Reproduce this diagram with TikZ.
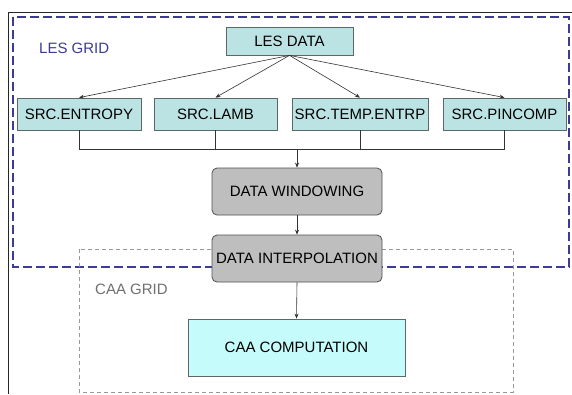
\documentclass[tikz,border=0pt]{standalone}
\usepackage{fontspec}
\setmainfont{Liberation Sans}
\usetikzlibrary{arrows.meta}
\definecolor{srcfill}{HTML}{BCE3E3}
\definecolor{caafill}{HTML}{C6FBFB}
\definecolor{boxline}{HTML}{5A6868}
\definecolor{grayfill}{HTML}{BEBEBE}
\definecolor{grayline}{HTML}{505050}
\definecolor{lesblue}{HTML}{3C3C96}
\definecolor{caagray}{HTML}{999999}
\definecolor{caatext}{HTML}{707070}
\begin{document}
\begin{tikzpicture}[x=1pt,y=-1pt,
  every node/.style={font=\fontsize{15}{17}\selectfont, inner sep=0pt},
  srcbox/.style={draw=boxline, fill=srcfill, line width=0.8pt, minimum height=32pt},
  graybox/.style={draw=grayline, fill=grayfill, line width=0.8pt, rounded corners=5pt, minimum width=170pt, minimum height=47pt},
  conn/.style={draw=black!80, line width=0.6pt},
  arr/.style={conn, -{Stealth[length=5pt,width=4pt]}}]
\useasboundingbox (0,0) rectangle (572,394);
\fill[white] (0,0) rectangle (572,394);
% outer frame
\draw[black!85, line width=0.9pt] (572,12) -- (8,12) -- (8,394);
% grids
\draw[lesblue, line width=1.2pt, dash pattern=on 9pt off 4pt] (13,17) rectangle (569,267);
\draw[caagray, line width=1pt, dash pattern=on 4pt off 3pt] (79,249) rectangle (513,392);
\node[text=lesblue, anchor=west] (lesgrid) at (39,48) {LES GRID};
\node[text=caatext, anchor=west] (caagrid) at (95,289) {CAA GRID};
% nodes
\node[srcbox, minimum width=127pt, minimum height=28pt] (les) at (289.5,41) {LES DATA};
\node[srcbox, minimum width=124pt] (s1) at (79,114) {SRC.ENTROPY};
\node[srcbox, minimum width=123pt] (s2) at (215.5,114) {SRC.LAMB};
\node[srcbox, minimum width=136pt] (s3) at (360,114) {SRC.TEMP.ENTRP};
\node[srcbox, minimum width=123pt] (s4) at (504.5,114) {SRC.PINCOMP};
\node[graybox] (win) at (297,191.5) {DATA WINDOWING};
\node[graybox] (interp) at (297,258.5) {DATA INTERPOLATION};
\node[draw=boxline, fill=caafill, line width=0.8pt, minimum width=217pt, minimum height=57pt] (caa) at (296.5,347.5) {CAA COMPUTATION};
% connectors
\foreach \s in {s1,s2,s3,s4} \draw[arr] (les.south) -- (\s.north);
\coordinate (j1) at (79,149);
\coordinate (j4) at (504.5,149);
\coordinate (jm) at (297,149);
\draw[conn] (s1.south) -- (j1) -- (j4) -- (s4.south);
\draw[conn] (s2.south) -- (s2.south |- j1);
\draw[conn] (s3.south) -- (s3.south |- j1);
\draw[arr] (jm) -- (win.north);
\draw[arr] (win.south) -- (interp.north);
\draw[arr] (interp.south) -- (caa.north);
\end{tikzpicture}
\end{document}
